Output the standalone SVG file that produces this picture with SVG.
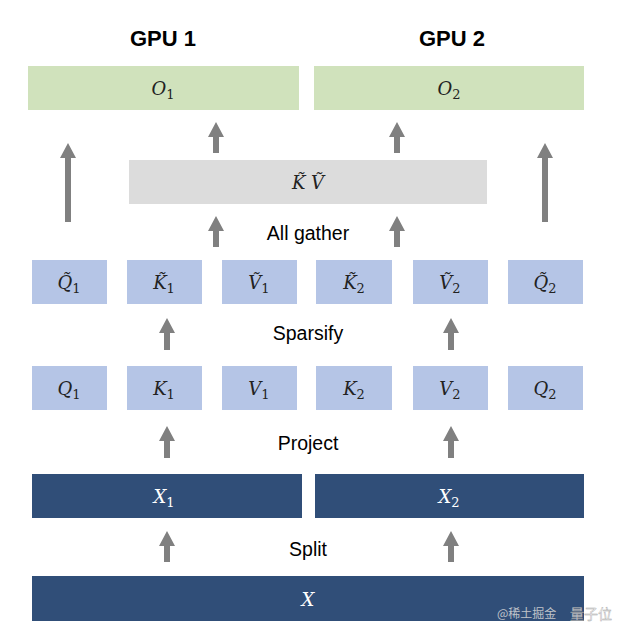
<svg xmlns="http://www.w3.org/2000/svg" width="632" height="638" viewBox="0 0 632 638">
<defs>
<style>
.head{font-family:"Liberation Sans",Arial,sans-serif;font-weight:bold;font-size:22px;fill:#000;text-anchor:middle}
.lbl{font-family:"Liberation Sans",Arial,sans-serif;font-size:19.5px;fill:#000;text-anchor:middle}
.m{font-family:"DejaVu Serif","Liberation Serif",serif;font-style:italic;font-size:18px;fill:#222;text-anchor:middle}
.m tspan.s{font-style:normal;font-size:13px}
.mw{fill:#fff}
.green{fill:#d0e2bc}
.gray{fill:#dcdcdc}
.lb{fill:#b5c5e6}
.db{fill:#304e78}
.arr{fill:#808080}
.wm{font-family:"Noto Sans CJK SC","Liberation Sans",sans-serif;font-size:12px;fill:#d8d8d8;opacity:0.85}
</style>
</defs>
<rect width="632" height="638" fill="#fff"/>
<text class="head" x="163" y="46">GPU 1</text>
<text class="head" x="452" y="46">GPU 2</text>

<g id="O1"><rect class="green" x="28" y="66" width="271" height="44"/><text class="m" x="163" y="95">O<tspan class="s" dy="4">1</tspan></text></g>
<g id="O2"><rect class="green" x="314" y="66" width="270" height="44"/><text class="m" x="449" y="95">O<tspan class="s" dy="4">2</tspan></text></g>
<g id="KV"><rect class="gray" x="129" y="160" width="358" height="44"/><text class="m" x="308" y="189">K̃ Ṽ</text></g>

<g id="Qt1"><rect class="lb" x="32" y="260" width="75" height="44"/><text class="m" x="69" y="289">Q̃<tspan class="s" dy="4">1</tspan></text></g>
<g id="Kt1"><rect class="lb" x="127" y="260" width="75" height="44"/><text class="m" x="164" y="289">K̃<tspan class="s" dy="4">1</tspan></text></g>
<g id="Vt1"><rect class="lb" x="222" y="260" width="75" height="44"/><text class="m" x="259" y="289">Ṽ<tspan class="s" dy="4">1</tspan></text></g>
<g id="Kt2"><rect class="lb" x="316" y="260" width="76" height="44"/><text class="m" x="354" y="289">K̃<tspan class="s" dy="4">2</tspan></text></g>
<g id="Vt2"><rect class="lb" x="413" y="260" width="75" height="44"/><text class="m" x="450" y="289">Ṽ<tspan class="s" dy="4">2</tspan></text></g>
<g id="Qt2"><rect class="lb" x="508" y="260" width="75" height="44"/><text class="m" x="545" y="289">Q̃<tspan class="s" dy="4">2</tspan></text></g>

<g id="Q1"><rect class="lb" x="32" y="366" width="75" height="44"/><text class="m" x="69" y="395">Q<tspan class="s" dy="4">1</tspan></text></g>
<g id="K1"><rect class="lb" x="127" y="366" width="75" height="44"/><text class="m" x="164" y="395">K<tspan class="s" dy="4">1</tspan></text></g>
<g id="V1"><rect class="lb" x="222" y="366" width="75" height="44"/><text class="m" x="259" y="395">V<tspan class="s" dy="4">1</tspan></text></g>
<g id="K2"><rect class="lb" x="316" y="366" width="76" height="44"/><text class="m" x="354" y="395">K<tspan class="s" dy="4">2</tspan></text></g>
<g id="V2"><rect class="lb" x="413" y="366" width="75" height="44"/><text class="m" x="450" y="395">V<tspan class="s" dy="4">2</tspan></text></g>
<g id="Q2"><rect class="lb" x="508" y="366" width="75" height="44"/><text class="m" x="545" y="395">Q<tspan class="s" dy="4">2</tspan></text></g>

<g id="X1"><rect class="db" x="32" y="474" width="270" height="44"/><text class="m mw" x="164" y="503">X<tspan class="s" dy="4">1</tspan></text></g>
<g id="X2"><rect class="db" x="315" y="474" width="269" height="44"/><text class="m mw" x="449" y="503">X<tspan class="s" dy="4">2</tspan></text></g>
<g id="X"><rect class="db" x="32" y="576" width="552" height="45"/><text class="m mw" x="308" y="606">X</text></g>

<text class="lbl" x="308" y="240">All gather</text>
<text class="lbl" x="308" y="340">Sparsify</text>
<text class="lbl" x="308" y="450">Project</text>
<text class="lbl" x="308" y="556">Split</text>

<g id="connectors" class="arr">
<path d="M65,222 V158 H60 L68,143 L76,158 H71 V222 Z"/>
<path d="M542,222 V158 H537 L545,143 L553,158 H548 V222 Z"/>
<path d="M213,153 V137 H208 L216,122 L224,137 H219 V153 Z"/>
<path d="M394,153 V137 H389 L397,122 L405,137 H400 V153 Z"/>
<path d="M213,247 V231 H208 L216,216 L224,231 H219 V247 Z"/>
<path d="M394,247 V231 H389 L397,216 L405,231 H400 V247 Z"/>
<path d="M164,350 V333 H159 L167,318 L175,333 H170 V350 Z"/>
<path d="M448,350 V333 H443 L451,318 L459,333 H454 V350 Z"/>
<path d="M164,458 V441 H159 L167,426 L175,441 H170 V458 Z"/>
<path d="M448,458 V441 H443 L451,426 L459,441 H454 V458 Z"/>
<path d="M164,562 V546 H159 L167,531 L175,546 H170 V562 Z"/>
<path d="M448,562 V546 H443 L451,531 L459,546 H454 V562 Z"/>
</g>

<text class="wm" x="497" y="618">@稀土掘金</text>
<text class="wm" x="570" y="619" style="font-size:14px;fill:#f4f4f4;stroke:#999;stroke-width:0.4">量子位</text>
</svg>
